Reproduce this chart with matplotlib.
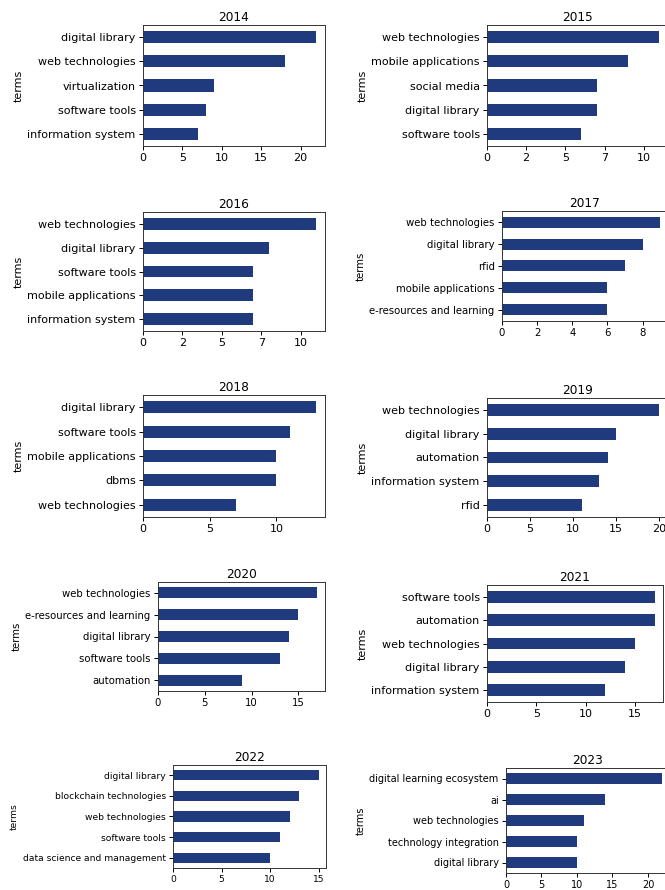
import matplotlib.pyplot as plt
from matplotlib.ticker import MultipleLocator, FuncFormatter

# top five terms per year, listed from top bar to bottom bar
years = [2014, 2015, 2016, 2017, 2018, 2019, 2020, 2021, 2022, 2023]

terms_2014 = ['digital library', 'web technologies', 'virtualization', 'software tools', 'information system']
counts_2014 = [22, 18, 9, 8, 7]
terms_2015 = ['web technologies', 'mobile applications', 'social media', 'digital library', 'software tools']
counts_2015 = [11, 9, 7, 7, 6]
terms_2016 = ['web technologies', 'digital library', 'software tools', 'mobile applications', 'information system']
counts_2016 = [11, 8, 7, 7, 7]
terms_2017 = ['web technologies', 'digital library', 'rfid', 'mobile applications', 'e-resources and learning']
counts_2017 = [9, 8, 7, 6, 6]
terms_2018 = ['digital library', 'software tools', 'mobile applications', 'dbms', 'web technologies']
counts_2018 = [13, 11, 10, 10, 7]
terms_2019 = ['web technologies', 'digital library', 'automation', 'information system', 'rfid']
counts_2019 = [20, 15, 14, 13, 11]
terms_2020 = ['web technologies', 'e-resources and learning', 'digital library', 'software tools', 'automation']
counts_2020 = [17, 15, 14, 13, 9]
terms_2021 = ['software tools', 'automation', 'web technologies', 'digital library', 'information system']
counts_2021 = [17, 17, 15, 14, 12]
terms_2022 = ['digital library', 'blockchain technologies', 'web technologies', 'software tools',
              'data science and management']
counts_2022 = [15, 13, 12, 11, 10]
terms_2023 = ['digital learning ecosystem', 'ai', 'web technologies', 'technology integration', 'digital library']
counts_2023 = [22, 14, 11, 10, 10]

all_terms = [terms_2014, terms_2015, terms_2016, terms_2017, terms_2018,
             terms_2019, terms_2020, terms_2021, terms_2022, terms_2023]
all_counts = [counts_2014, counts_2015, counts_2016, counts_2017, counts_2018,
              counts_2019, counts_2020, counts_2021, counts_2022, counts_2023]
tick_steps = [5, 2.5, 2.5, 2, 5, 5, 5, 5, 5, 5]

W, H = 665, 890
# axes boxes in pixels: left, top, right, bottom
boxes = [
    (143, 25, 325, 146), (487, 25, 668, 146),
    (143, 212, 325, 331), (502, 211, 668, 321),
    (143, 395, 325, 517), (487, 398, 668, 517),
    (158, 582, 325, 691), (487, 585, 663, 702),
    (173, 765, 326, 868), (506, 768, 670, 873),
]
label_sizes = [8, 8, 8, 7.3, 8, 8, 7.3, 8, 6.6, 7.0]

bar_color = '#1f3a7d'

fig = plt.figure(figsize=(W / 100, H / 100), dpi=100)

for year, terms, counts, step, box, fs in zip(years, all_terms, all_counts,
                                              tick_steps, boxes, label_sizes):
    l, t, r, b = box
    ax = fig.add_axes([l / W, 1 - b / H, (r - l) / W, (b - t) / H])
    ypos = list(range(len(terms)))[::-1]
    ax.barh(ypos, counts, height=0.5, color=bar_color)
    ax.set_ylim(-0.5, len(terms) - 0.5)
    ax.set_xlim(0, max(counts) * 1.05)
    ax.set_yticks(ypos)
    ax.set_yticklabels(terms)
    ax.xaxis.set_major_locator(MultipleLocator(step))
    ax.xaxis.set_major_formatter(FuncFormatter(lambda x, p: f'{int(x)}'))
    ax.tick_params(labelsize=fs, length=2.8, width=0.7, pad=2.5)
    for s in ax.spines.values():
        s.set_linewidth(0.7)
        s.set_color('#333333')
    ax.set_title(str(year), fontsize=8.7, pad=3)
    ax.set_ylabel('terms', fontsize=fs, labelpad=2.5)

fig.savefig('out.png', dpi=100)
